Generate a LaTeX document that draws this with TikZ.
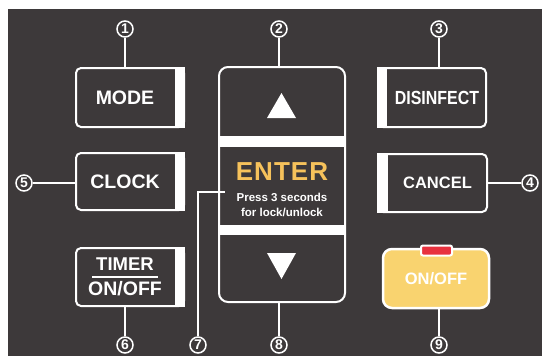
\documentclass[tikz,border=0pt]{standalone}
\usepackage{fontspec}
\setmainfont{Liberation Sans}
\usetikzlibrary{calc}

\definecolor{panel}{HTML}{3D393A}
\definecolor{entercol}{HTML}{F6C25B}
\definecolor{keyyellow}{HTML}{F9D36F}
\definecolor{ledred}{HTML}{E8313E}

\newcommand{\keypad}{\kern10pt}

\tikzset{
  key/.style={draw=white, line width=2pt, rounded corners=5pt, outer sep=0pt,
    minimum width=108pt, minimum height=59pt, inner sep=0pt, text=white,
    font=\bfseries\fontsize{19.5}{19.5}\selectfont},
  callout/.style={circle, draw=white, line width=1.5pt, minimum size=16pt,
    inner sep=0pt, text=white, font=\bfseries\fontsize{14}{14}\selectfont},
  lead/.style={white, line width=1.5pt},
  keybar/.style={fill=white},
}

\begin{document}
\begin{tikzpicture}[x=1pt, y=-1pt]
    \useasboundingbox (0,0) rectangle (542,356);
    \fill[white] (0,0) rectangle (542,356);
    \fill[panel] (8,9) rectangle (542,356);

    % Left keys
    \node[key] (mode) at (130,97.5) {MODE\keypad};
    \node[key, minimum height=57pt] (clock) at (130,181.5) {CLOCK\keypad};
    \node[key, minimum height=58pt, align=center, font=\bfseries\fontsize{18.5}{14}\selectfont] (timer) at (130,277)
        {TIMER\keypad\\[-1pt]\rule[6pt]{66pt}{1.8pt}\keypad\\[-3pt]\fontsize{19.5}{19.5}\selectfont ON/OFF\keypad};
    \fill[keybar] ($(mode.north east)+(1,-1)$) rectangle ($(mode.south east)+(-9,1)$);
    \fill[keybar] ($(clock.north east)+(1,-1)$) rectangle ($(clock.south east)+(-9,1)$);
    \fill[keybar] ($(timer.north east)+(1,-1)$) rectangle ($(timer.south east)+(-9,1)$);

    % Right keys
    \node[key, font=\bfseries\fontsize{19}{19}\selectfont\addfontfeature{FakeStretch=0.84}] (disinfect) at (432,97.5) {\keypad DISINFECT};
    \node[key, minimum width=109pt, minimum height=58pt, font=\bfseries\fontsize{16.5}{16.5}\selectfont] (cancel) at (432.5,183) {\keypad CANCEL};
    \fill[keybar] ($(disinfect.north west)+(-1,-1)$) rectangle ($(disinfect.south west)+(9,1)$);
    \fill[keybar] ($(cancel.north west)+(-1,-1)$) rectangle ($(cancel.south west)+(10,1)$);

    % Arrow pad with ENTER
    \node[draw=white, line width=2pt, rounded corners=9pt, outer sep=0pt,
        minimum width=126pt, minimum height=235pt] (pad) at (282,184.5) {};
    \fill[white] (219,136) rectangle (345,147);
    \fill[white] (219,225) rectangle (345,235);
    \fill[white] (267,118) -- (296,118) -- (281.5,93) -- cycle;
    \fill[white] (267,253) -- (296,253) -- (281.5,279) -- cycle;
    \node[text=entercol, font=\bfseries\fontsize{26}{26}\selectfont\addfontfeature{LetterSpace=4}] (enter) at (282,171.5) {ENTER};
    \node[text=white, align=center, font=\bfseries\fontsize{11.5}{14.5}\selectfont] (hint) at (282,205) {Press 3 seconds\\for lock/unlock};

    % Power key
    \node[draw=white, line width=2.5pt, fill=keyyellow, rounded corners=9pt, outer sep=0pt,
        minimum width=106pt, minimum height=59pt, text=white,
        font=\bfseries\fontsize{16.5}{16.5}\selectfont] (onoff) at (436,278.5) {ON/OFF};
    \node[draw=white, line width=2pt, fill=ledred, rounded corners=2pt,
        minimum width=31pt, minimum height=10pt, inner sep=0pt] (led) at (436.5,250.5) {};

    % Callouts
    \node[callout] (n1) at (125,29) {1};
    \node[callout] (n2) at (279,29) {2};
    \node[callout] (n3) at (439,29) {3};
    \node[callout] (n4) at (530,183) {4};
    \node[callout] (n5) at (24,183) {5};
    \node[callout] (n6) at (125,345) {6};
    \node[callout] (n7) at (198,345) {7};
    \node[callout] (n8) at (279,345) {8};
    \node[callout] (n9) at (439,345) {9};
    \coordinate (tip7) at (225,192);

    \draw[lead] (n1) -- (n1 |- mode.north);
    \draw[lead] (n2) -- (n2 |- pad.north);
    \draw[lead] (n3) -- (n3 |- disinfect.north);
    \draw[lead] (n4) -- (n4 -| cancel.east);
    \draw[lead] (n5) -- (n5 -| clock.west);
    \draw[lead] (n6) -- (n6 |- timer.south);
    \draw[lead] (n7) |- (tip7);
    \draw[lead] (n8) -- (n8 |- pad.south);
    \draw[lead] (n9) -- (n9 |- onoff.south);
\end{tikzpicture}
\end{document}
